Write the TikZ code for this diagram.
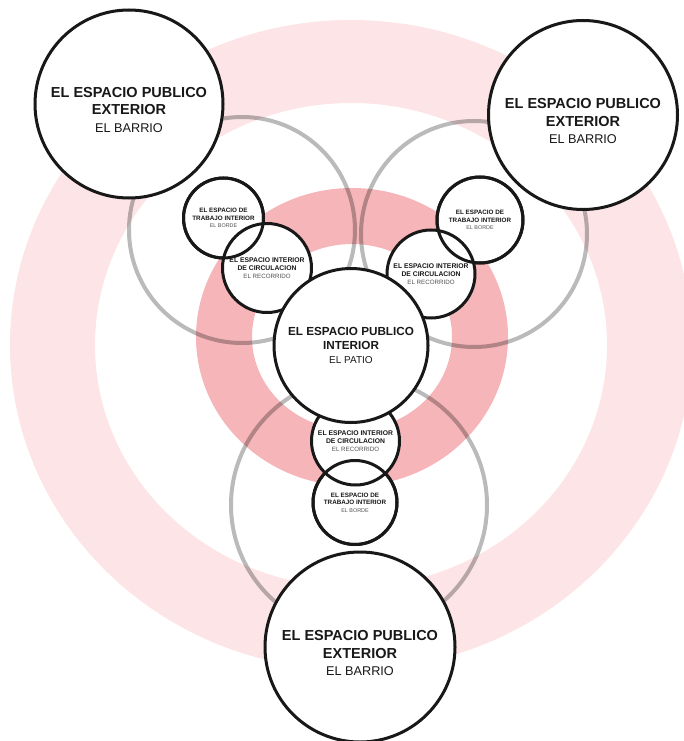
\documentclass[tikz,border=0pt]{standalone}
\usepackage{fontspec}
\setmainfont{Liberation Sans}
\definecolor{rosa}{RGB}{252,228,231}
\definecolor{rojo}{RGB}{246,181,185}
\definecolor{tinta}{RGB}{24,24,24}
\definecolor{gris}{RGB}{80,80,80}
\newcommand{\sublinea}[2]{{\fontsize{#1}{#1}\selectfont\mdseries\color{gris}#2}}
\tikzset{
	enlace/.style={draw=black, draw opacity=0.27, line width=4pt},
	trazo/.style={draw=tinta, line width=3pt},
	barrio/.style={circle, trazo, fill=white, minimum size=188pt, inner sep=0pt},
	barriotxt/.style={align=center, text=tinta, inner sep=0pt, font=\fontsize{14.5}{17.5}\selectfont\bfseries},
	patio/.style={circle, trazo, fill=white, minimum size=154pt, inner sep=0pt, align=center, text=tinta, font=\fontsize{11.7}{13.8}\selectfont\bfseries},
	recorrido/.style={circle, trazo, fill=white, minimum size=89pt, inner sep=0pt, align=center, text=tinta, font=\fontsize{6.8}{8}\selectfont\bfseries},
	borde/.style={circle, trazo, fill=white, minimum size=84pt, inner sep=0pt, align=center, text=tinta, font=\fontsize{6.3}{7.6}\selectfont\bfseries},
}
\begin{document}
\begin{tikzpicture}[x=1pt,y=-1pt]
	\useasboundingbox (0,0) rectangle (684,741);
	% anillos
	\fill[rosa, even odd rule] (351,345) ellipse[x radius=341pt, y radius=325pt] (351,345) ellipse[x radius=256pt, y radius=242pt];
	\fill[rojo, even odd rule] (352,337) ellipse[x radius=156pt, y radius=149pt] (352,337) ellipse[x radius=100pt, y radius=93pt];
	% circulos grises
	\draw[enlace] (242,230) circle[radius=113pt];
	\draw[enlace] (474,234) circle[radius=113pt];
	\draw[enlace] (359,505) circle[radius=128pt];
	% borde
	\node[borde, minimum size=80pt] (btl) at (223.5,218) {EL ESPACIO DE\\TRABAJO INTERIOR\\\sublinea{5.4}{EL BORDE}};
	\node[borde, minimum size=86pt] (btr) at (480,220) {EL ESPACIO DE\\TRABAJO INTERIOR\\\sublinea{5.4}{EL BORDE}};
	\node[borde] (bb) at (355,502.5) {EL ESPACIO DE\\TRABAJO INTERIOR\\\sublinea{5.4}{EL BORDE}};
	% recorrido
	\node[recorrido] (rtl) at (267,268) {EL ESPACIO INTERIOR\\DE CIRCULACION\\\sublinea{6.2}{EL RECORRIDO}};
	\node[recorrido, minimum size=88pt] (rtr) at (431,274) {EL ESPACIO INTERIOR\\DE CIRCULACION\\\sublinea{6.2}{EL RECORRIDO}};
	\node[recorrido, minimum size=88pt] (rb) at (355.5,441) {EL ESPACIO INTERIOR\\DE CIRCULACION\\\sublinea{6.2}{EL RECORRIDO}};
	\draw[trazo] (btl) circle[radius=40pt];
	\draw[trazo] (btr) circle[radius=43pt];
	\draw[trazo] (bb) circle[radius=42pt];
	% patio
	\node[patio] (patio) at (351,345.5) {EL ESPACIO PUBLICO\\INTERIOR\\\sublinea{10}{\color{tinta}EL PATIO}};
	% barrios
	\node[barrio] (tl) at (129,104) {};
	\node[barrio, minimum size=189pt] (tr) at (583,115) {};
	\node[barrio, minimum size=190pt] (b) at (360,647) {};
	\node[barriotxt] (tl-txt) at ([yshift=-5.5pt]tl) {EL ESPACIO PUBLICO\\EXTERIOR\\\sublinea{12.7}{\color{tinta}EL BARRIO}};
	\node[barriotxt] (tr-txt) at ([yshift=-6pt]tr) {EL ESPACIO PUBLICO\\EXTERIOR\\\sublinea{12.7}{\color{tinta}EL BARRIO}};
	\node[barriotxt] (b-txt) at ([yshift=-6pt]b) {EL ESPACIO PUBLICO\\EXTERIOR\\\sublinea{12.7}{\color{tinta}EL BARRIO}};
\end{tikzpicture}
\end{document}
